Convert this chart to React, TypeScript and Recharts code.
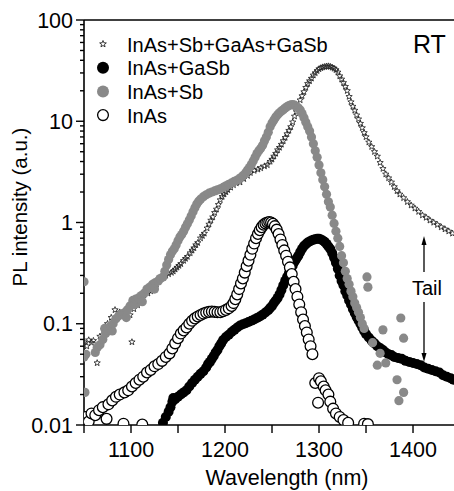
import React from 'react';
import { ScatterChart, Scatter, XAxis, YAxis, ReferenceLine } from 'recharts';

// InAs+Sb+GaAs+GaSb (stars)
const starPoints = [
  [1050, 0.066], [1053, 0.06], [1055, 0.069], [1058, 0.065], [1060, 0.068], [1064, 0.041], [1067, 0.075], [1071, 0.087],
  [1075, 0.1], [1079, 0.115], [1083, 0.137], [1088, 0.13], [1093, 0.125], [1099, 0.122], [1101, 0.066], [1103, 0.14],
  [1107, 0.153], [1110, 0.165], [1113, 0.18], [1118, 0.2], [1121, 0.21], [1124, 0.23], [1127, 0.245], [1129, 0.26],
  [1132, 0.275], [1134, 0.29], [1137, 0.3], [1140, 0.31], [1143, 0.32], [1145, 0.33], [1147, 0.345], [1149, 0.36],
  [1151, 0.375], [1153, 0.39], [1156, 0.42], [1158, 0.44], [1160, 0.46], [1163, 0.5], [1165, 0.53], [1167, 0.56],
  [1169, 0.6], [1171, 0.63], [1174, 0.7], [1176, 0.74], [1178, 0.78], [1181, 0.88], [1183, 0.96], [1185, 1.05],
  [1187, 1.13], [1189, 1.25], [1191, 1.35], [1193, 1.5], [1195, 1.67], [1197, 1.8], [1199, 1.9], [1201, 2.0],
  [1203, 2.1], [1206, 2.22], [1209, 2.35], [1212, 2.45], [1216, 2.5], [1220, 2.7], [1224, 2.9], [1227, 3.1],
  [1231, 3.25], [1235, 3.35], [1238, 3.45], [1242, 3.6], [1245, 3.7], [1248, 4.0], [1250, 4.2], [1252, 4.5],
  [1254, 4.8], [1256, 5.2], [1258, 5.5], [1260, 5.9], [1262, 6.4], [1264, 6.9], [1266, 7.5], [1268, 8.1],
  [1270, 8.8], [1272, 9.8], [1274, 11.2], [1276, 12.4], [1278, 14.0], [1280, 16.2], [1282, 17.8], [1284, 19.5],
  [1286, 21.5], [1288, 23.5], [1290, 25.0], [1292, 26.5], [1294, 28.5], [1296, 30], [1298, 31.5], [1300, 32.8],
  [1302, 33.6], [1304, 34.2], [1306, 34.5], [1308, 34.9], [1310, 35], [1312, 34.6], [1314, 34], [1316, 33.2],
  [1318, 32.2], [1320, 30.5], [1322, 28], [1324, 26], [1326, 24], [1328, 22], [1330, 20], [1332, 17.5],
  [1334, 15.5], [1336, 14], [1338, 12.8], [1340, 11.5], [1342, 10.5], [1344, 9.5], [1346, 8.6], [1348, 7.7],
  [1350, 7.0], [1353, 6.2], [1356, 5.6], [1359, 5.0], [1362, 4.5], [1365, 3.9], [1368, 3.4], [1371, 3.0],
  [1374, 2.75], [1377, 2.5], [1380, 2.25], [1383, 2.05], [1386, 1.9], [1390, 1.75], [1394, 1.6], [1398, 1.48],
  [1402, 1.38], [1406, 1.28], [1410, 1.18], [1414, 1.12], [1418, 1.05], [1422, 1.0], [1426, 0.95], [1430, 0.9],
  [1434, 0.86], [1438, 0.82], [1442, 0.78],
];

// InAs+GaSb (black dots)
const gasbPoints = [
  [1134, 0.0105], [1137, 0.012], [1140, 0.0135], [1142, 0.015], [1144, 0.017], [1145, 0.0185], [1147, 0.018], [1150, 0.019],
  [1153, 0.02], [1156, 0.021], [1159, 0.022], [1162, 0.024], [1165, 0.026], [1168, 0.028], [1171, 0.03], [1174, 0.032],
  [1177, 0.034], [1180, 0.037], [1182, 0.04], [1184, 0.042], [1186, 0.045], [1188, 0.048], [1190, 0.052], [1192, 0.055],
  [1194, 0.06], [1196, 0.064], [1198, 0.069], [1201, 0.074], [1204, 0.078], [1207, 0.083], [1210, 0.087], [1213, 0.092],
  [1216, 0.096], [1219, 0.099], [1222, 0.101], [1225, 0.104], [1228, 0.107], [1231, 0.11], [1234, 0.114], [1237, 0.118],
  [1240, 0.123], [1243, 0.129], [1246, 0.136], [1248, 0.143], [1250, 0.15], [1252, 0.16], [1254, 0.17], [1256, 0.18],
  [1258, 0.195], [1260, 0.215], [1262, 0.24], [1264, 0.265], [1266, 0.29], [1268, 0.315], [1270, 0.34], [1272, 0.375],
  [1274, 0.41], [1276, 0.44], [1278, 0.47], [1280, 0.51], [1282, 0.55], [1284, 0.585], [1286, 0.61], [1288, 0.635],
  [1290, 0.65], [1292, 0.665], [1294, 0.675], [1296, 0.685], [1298, 0.69], [1300, 0.69], [1302, 0.68], [1304, 0.665],
  [1306, 0.645], [1308, 0.615], [1310, 0.58], [1312, 0.547], [1314, 0.5], [1316, 0.45], [1318, 0.4], [1320, 0.35],
  [1322, 0.3], [1324, 0.265], [1326, 0.24], [1328, 0.21], [1330, 0.19], [1332, 0.17], [1334, 0.155], [1336, 0.14],
  [1338, 0.128], [1340, 0.117], [1342, 0.108], [1344, 0.1], [1346, 0.092], [1348, 0.085], [1350, 0.079], [1353, 0.073],
  [1356, 0.068], [1359, 0.064], [1362, 0.06], [1365, 0.0575], [1368, 0.055], [1371, 0.052], [1374, 0.05], [1377, 0.049],
  [1380, 0.047], [1384, 0.046], [1388, 0.045], [1392, 0.043], [1396, 0.042], [1400, 0.041], [1404, 0.04], [1408, 0.039],
  [1412, 0.037], [1416, 0.036], [1420, 0.035], [1424, 0.034], [1428, 0.033], [1432, 0.031], [1436, 0.03], [1440, 0.029],
  [1443, 0.028],
];

// InAs+Sb (grey dots)
const sbPoints = [
  [1050, 0.26], [1050, 0.047], [1051, 0.021], [1052, 0.05], [1062, 0.052], [1064, 0.058], [1067, 0.062], [1070, 0.07],
  [1072, 0.09], [1073, 0.08], [1075, 0.087], [1078, 0.095], [1080, 0.085], [1081, 0.1], [1084, 0.112], [1087, 0.12],
  [1090, 0.125], [1093, 0.128], [1095, 0.115], [1096, 0.137], [1099, 0.15], [1102, 0.17], [1104, 0.155], [1105, 0.175],
  [1108, 0.18], [1111, 0.19], [1112, 0.165], [1114, 0.2], [1117, 0.22], [1120, 0.23], [1123, 0.245], [1125, 0.22],
  [1126, 0.255], [1129, 0.265], [1131, 0.28], [1134, 0.29], [1136, 0.33], [1138, 0.38], [1140, 0.43], [1142, 0.48],
  [1144, 0.52], [1146, 0.55], [1148, 0.6], [1150, 0.66], [1152, 0.72], [1154, 0.76], [1156, 0.82], [1158, 0.9],
  [1160, 0.97], [1162, 1.06], [1164, 1.16], [1166, 1.28], [1168, 1.4], [1170, 1.52], [1172, 1.62], [1174, 1.7],
  [1177, 1.8], [1180, 1.88], [1183, 1.95], [1186, 2.0], [1189, 2.05], [1192, 2.1], [1195, 2.15], [1198, 2.22],
  [1201, 2.3], [1204, 2.38], [1207, 2.46], [1210, 2.55], [1213, 2.63], [1216, 2.75], [1219, 2.9], [1222, 3.1],
  [1224, 3.3], [1226, 3.5], [1228, 3.75], [1230, 4.05], [1232, 4.4], [1234, 4.8], [1236, 5.1], [1238, 5.4],
  [1240, 5.8], [1242, 6.4], [1244, 7.0], [1246, 7.8], [1248, 8.8], [1250, 9.6], [1252, 10.3], [1254, 11.0],
  [1256, 11.6], [1258, 12.1], [1260, 12.6], [1262, 13.0], [1264, 13.5], [1266, 13.9], [1268, 14.3], [1270, 14.5],
  [1272, 14.6], [1274, 14.4], [1276, 14.0], [1278, 13.5], [1280, 12.9], [1282, 11.9], [1284, 10.8], [1286, 9.8],
  [1288, 8.8], [1290, 8.0], [1292, 7.0], [1294, 6.0], [1296, 5.1], [1298, 4.4], [1300, 3.7], [1302, 3.1],
  [1304, 2.65], [1306, 2.25], [1308, 1.9], [1310, 1.6], [1312, 1.42], [1314, 1.18], [1316, 0.98], [1318, 0.82],
  [1320, 0.7], [1322, 0.58], [1324, 0.47], [1326, 0.4], [1328, 0.33], [1330, 0.28], [1332, 0.245], [1334, 0.21],
  [1336, 0.185], [1338, 0.16], [1340, 0.145], [1342, 0.13], [1344, 0.115], [1346, 0.1], [1348, 0.09],
  [1351, 0.29], [1352, 0.23], [1357, 0.065], [1362, 0.039], [1365, 0.051], [1368, 0.087], [1371, 0.041], [1383, 0.028],
  [1385, 0.0174], [1387, 0.114], [1390, 0.072], [1390, 0.021],
];

// InAs (open circles)
const inasPoints = [
  [1052, 0.012], [1055, 0.0108], [1058, 0.013], [1062, 0.0125], [1066, 0.014], [1070, 0.015], [1074, 0.0115], [1076, 0.016],
  [1080, 0.0175], [1084, 0.019], [1088, 0.02], [1092, 0.0103], [1093, 0.021], [1097, 0.022], [1101, 0.024], [1105, 0.026],
  [1109, 0.028], [1112, 0.0101], [1113, 0.03], [1117, 0.033], [1121, 0.035], [1125, 0.038], [1129, 0.04], [1133, 0.043],
  [1137, 0.047], [1141, 0.051], [1144, 0.057], [1147, 0.064], [1150, 0.072], [1153, 0.08], [1156, 0.086], [1159, 0.092],
  [1162, 0.1], [1165, 0.107], [1168, 0.113], [1171, 0.118], [1174, 0.122], [1177, 0.126], [1180, 0.129], [1183, 0.131],
  [1186, 0.132], [1189, 0.131], [1192, 0.13], [1195, 0.13], [1198, 0.133], [1201, 0.137], [1204, 0.142], [1207, 0.15],
  [1209, 0.16], [1211, 0.175], [1213, 0.195], [1215, 0.22], [1217, 0.25], [1219, 0.28], [1221, 0.32], [1223, 0.37],
  [1225, 0.42], [1227, 0.48], [1229, 0.55], [1231, 0.62], [1233, 0.7], [1235, 0.77], [1237, 0.84], [1239, 0.9],
  [1241, 0.95], [1243, 0.98], [1245, 1.0], [1247, 1.01], [1249, 1.0], [1251, 0.97], [1253, 0.92], [1255, 0.85],
  [1257, 0.77], [1259, 0.68], [1261, 0.6], [1263, 0.53], [1265, 0.47], [1267, 0.41], [1269, 0.36], [1271, 0.31],
  [1273, 0.26], [1275, 0.22], [1277, 0.185], [1279, 0.155], [1281, 0.13], [1283, 0.11], [1285, 0.095], [1287, 0.082],
  [1289, 0.07], [1291, 0.06], [1293, 0.05], [1296, 0.026], [1299, 0.0166], [1300, 0.029], [1302, 0.027], [1305, 0.024],
  [1307, 0.022], [1310, 0.02], [1312, 0.017], [1315, 0.0145], [1318, 0.013], [1322, 0.012], [1326, 0.0112], [1331, 0.0105],
  [1348, 0.0103], [1352, 0.0102],
];

const xTicks = [1050, 1100, 1150, 1200, 1250, 1300, 1350, 1400];
const yMajorTicks = [0.01, 0.1, 1, 10, 100];
const yTicks = [
  0.01, 0.02, 0.03, 0.04, 0.05, 0.06, 0.07, 0.08, 0.09,
  0.1, 0.2, 0.3, 0.4, 0.5, 0.6, 0.7, 0.8, 0.9,
  1, 2, 3, 4, 5, 6, 7, 8, 9,
  10, 20, 30, 40, 50, 60, 70, 80, 90,
  100,
];

const FONT = '"Liberation Sans", Arial, Helvetica, sans-serif';
const GREY = '#898989';

const toXY = (pts: number[][]) => pts.map(([x, y]) => ({ x, y }));

const starPath = (cx: number, cy: number, R: number, r: number) => {
  let d = '';
  for (let i = 0; i < 10; i++) {
    const a = -Math.PI / 2 + (i * Math.PI) / 5;
    const rad = i % 2 === 0 ? R : r;
    d += (i === 0 ? 'M' : 'L') + (cx + rad * Math.cos(a)).toFixed(2) + ' ' + (cy + rad * Math.sin(a)).toFixed(2);
  }
  return d + 'Z';
};

const StarDot = (p: any) => {
  if (p.cx == null || p.cy == null) return <g />;
  return <path d={starPath(p.cx, p.cy, 3.3, 1.4)} fill="none" stroke="#222" strokeWidth={0.85} />;
};
const BlackDot = (p: any) => (p.cx == null ? <g /> : <circle cx={p.cx} cy={p.cy} r={5} fill="#000" />);
const GreyDot = (p: any) => (p.cx == null ? <g /> : <circle cx={p.cx} cy={p.cy} r={4.6} fill={GREY} />);
const OpenDot = (p: any) =>
  p.cx == null ? <g /> : <circle cx={p.cx} cy={p.cy} r={5.4} fill="#fff" stroke="#000" strokeWidth={1.3} />;

const YTick = (props: any) => {
  const { x, y, payload } = props;
  const major = yMajorTicks.includes(payload.value);
  return (
    <g>
      <line x1={x} x2={x - (major ? 8 : 4)} y1={y} y2={y} stroke="#000" strokeWidth={1.4} />
      {major && (
        <text x={x - 11} y={y} dy="0.36em" textAnchor="end" fontSize={21.5} fontFamily={FONT} fill="#000">
          {String(payload.value)}
        </text>
      )}
    </g>
  );
};

const XTick = (props: any) => {
  const { x, y, payload } = props;
  return (
    <g>
      <line x1={x} x2={x} y1={y} y2={y + 8} stroke="#000" strokeWidth={1.4} />
      {payload.value % 100 === 0 && (
        <text x={x} y={y + 32} textAnchor="middle" fontSize={21.5} fontFamily={FONT} fill="#000">
          {payload.value}
        </text>
      )}
    </g>
  );
};

const legendRows = [
  { label: 'InAs+Sb+GaAs+GaSb', kind: 'star' },
  { label: 'InAs+GaSb', kind: 'black' },
  { label: 'InAs+Sb', kind: 'grey' },
  { label: 'InAs', kind: 'open' },
];

const Overlay = () => (
  <svg width={454} height={491} style={{ position: 'absolute', left: 0, top: 0, pointerEvents: 'none' }}>
    {legendRows.map((row, i) => {
      const cy = 44 + i * 23.7;
      return (
        <g key={row.label}>
          {row.kind === 'star' && <path d={starPath(103, cy, 3.5, 1.5)} fill="none" stroke="#222" strokeWidth={0.9} />}
          {row.kind === 'black' && <circle cx={103} cy={cy} r={6} fill="#000" />}
          {row.kind === 'grey' && <circle cx={103} cy={cy} r={6} fill={GREY} />}
          {row.kind === 'open' && <circle cx={103} cy={cy} r={5.4} fill="#fff" stroke="#000" strokeWidth={1.3} />}
          <text x={127} y={cy + 7.5} fontSize={20} fontFamily={FONT} fill="#000">
            {row.label}
          </text>
        </g>
      );
    })}
    <text x={413} y={53} fontSize={25} fontFamily={FONT} fill="#000">RT</text>

    {/* Tail annotation */}
    <line x1={424} x2={424} y1={272} y2={242} stroke="#000" strokeWidth={1.3} />
    <polygon points="424,236 421.5,245 426.5,245" fill="#000" />
    <text x={427} y={295} textAnchor="middle" fontSize={20} fontFamily={FONT} fill="#000">Tail</text>
    <line x1={424} x2={424} y1={302} y2={356} stroke="#000" strokeWidth={1.3} />
    <polygon points="424,362 421.5,353 426.5,353" fill="#000" />

    <text x={287} y={485} textAnchor="middle" fontSize={21.5} fontFamily={FONT} fill="#000">
      Wavelength (nm)
    </text>
    <text transform="translate(27,207) rotate(-90)" textAnchor="middle" fontSize={20.5} fontFamily={FONT} fill="#000">
      PL intensity (a.u.)
    </text>
  </svg>
);

export default function App() {
  return (
    <div style={{ position: 'absolute', left: 0, top: 0, width: 454, height: 491, background: '#fff' }}>
      <ScatterChart width={454} height={491} margin={{ top: 20, right: 0, bottom: 0, left: 0 }}>
        <XAxis
          type="number"
          dataKey="x"
          domain={[1050, 1443.6]}
          allowDataOverflow
          ticks={xTicks}
          interval={0}
          height={66}
          tickSize={0}
          tickMargin={0}
          tick={<XTick />}
          axisLine={{ stroke: '#000', strokeWidth: 1.6 }}
        />
        <YAxis
          type="number"
          dataKey="y"
          scale="log"
          domain={[0.01, 100]}
          allowDataOverflow
          ticks={yTicks}
          interval={0}
          width={84}
          tickSize={0}
          tickMargin={0}
          tick={<YTick />}
          axisLine={{ stroke: '#000', strokeWidth: 1.6 }}
        />
        <ReferenceLine y={100} stroke="#000" strokeWidth={1.6} />
        <Scatter name="InAs+Sb+GaAs+GaSb" data={toXY(starPoints)} shape={StarDot} isAnimationActive={false} />
        <Scatter name="InAs+GaSb" data={toXY(gasbPoints)} shape={BlackDot} isAnimationActive={false} />
        <Scatter name="InAs+Sb" data={toXY(sbPoints)} shape={GreyDot} isAnimationActive={false} />
        <Scatter name="InAs" data={toXY(inasPoints)} shape={OpenDot} isAnimationActive={false} />
      </ScatterChart>
      <Overlay />
    </div>
  );
}
